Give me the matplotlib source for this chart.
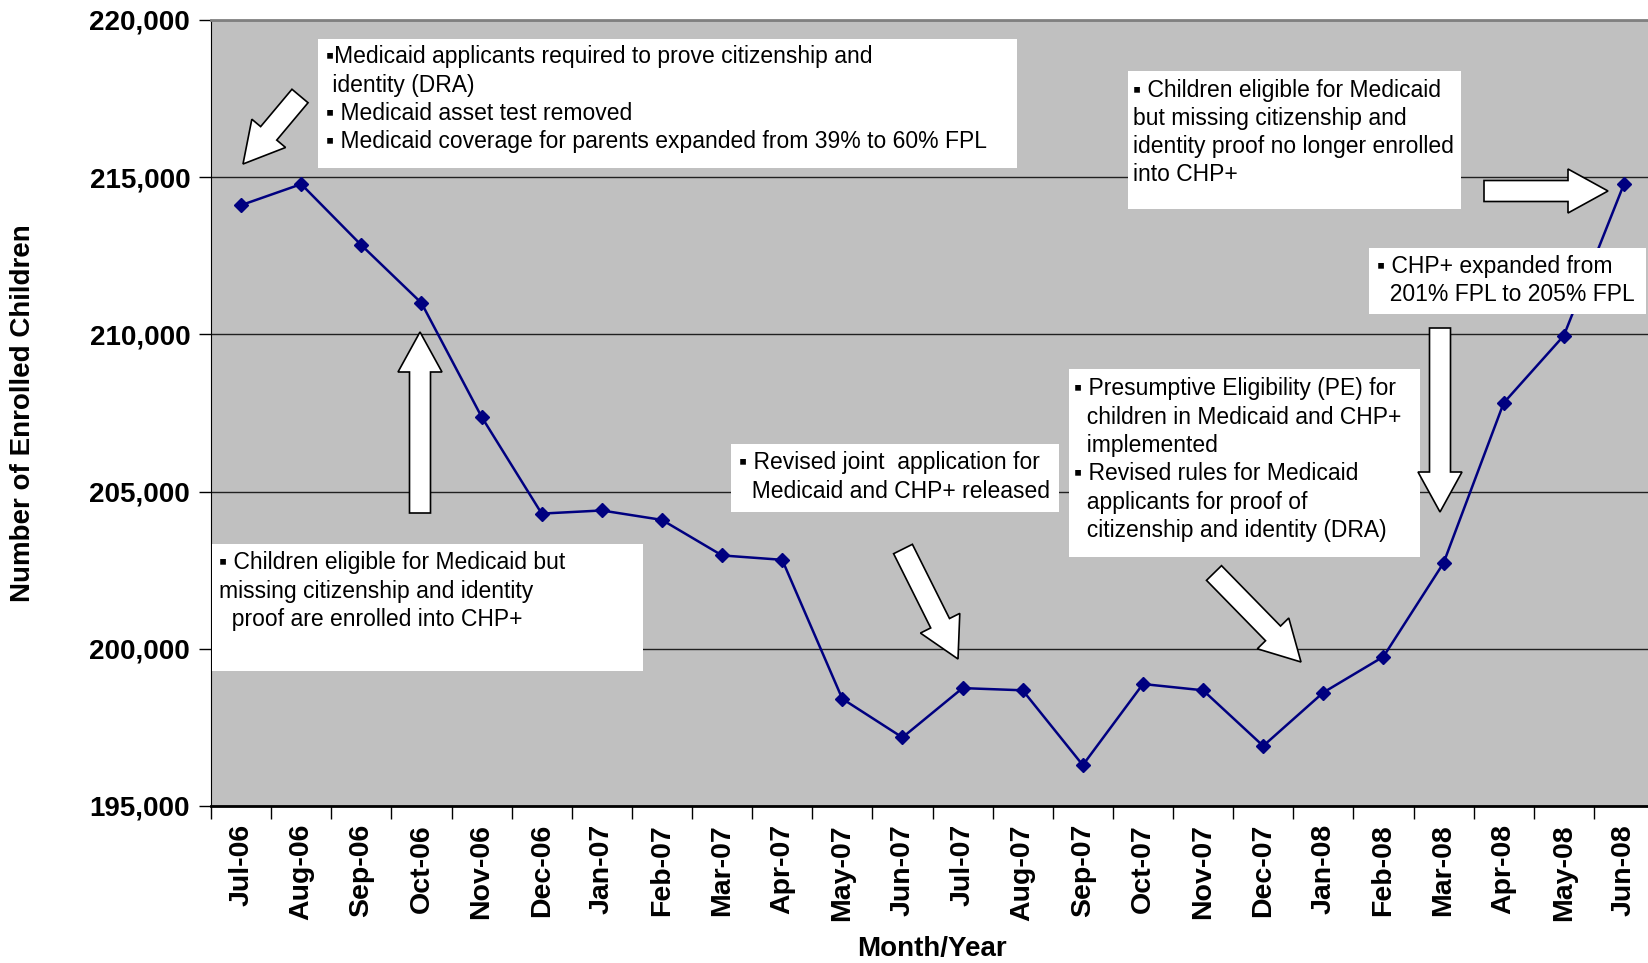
import matplotlib
matplotlib.use("Agg")
import matplotlib.pyplot as plt
from matplotlib.patches import Rectangle, FancyArrow

months = ["Jul-06", "Aug-06", "Sep-06", "Oct-06", "Nov-06", "Dec-06", "Jan-07", "Feb-07",
          "Mar-07", "Apr-07", "May-07", "Jun-07", "Jul-07", "Aug-07", "Sep-07", "Oct-07",
          "Nov-07", "Dec-07", "Jan-08", "Feb-08", "Mar-08", "Apr-08", "May-08", "Jun-08"]
enrolled = [214110, 214780, 212840, 211000, 207380, 204300, 204400, 204100,
            202970, 202830, 198410, 197180, 198750, 198680, 196300, 198880,
            198680, 196910, 198610, 199750, 202730, 207820, 209960, 214780]
yticks = [195000, 200000, 205000, 210000, 215000, 220000]

notes_top = ["\u25aaMedicaid applicants required to prove citizenship and",
             " identity (DRA)",
             "\u25aa Medicaid asset test removed",
             "\u25aa Medicaid coverage for parents expanded from 39% to 60% FPL"]
notes_topright = ["\u25aa Children eligible for Medicaid",
                  "but missing citizenship and",
                  "identity proof no longer enrolled",
                  "into CHP+"]
notes_chp = ["\u25aa CHP+ expanded from",
             "  201% FPL to 205% FPL"]
notes_pe = ["\u25aa Presumptive Eligibility (PE) for",
            "  children in Medicaid and CHP+",
            "  implemented",
            "\u25aa Revised rules for Medicaid",
            "  applicants for proof of",
            "  citizenship and identity (DRA)"]
notes_joint = ["\u25aa Revised joint  application for",
               "  Medicaid and CHP+ released"]
notes_left = ["\u25aa Children eligible for Medicaid but",
              "missing citizenship and identity",
              "  proof are enrolled into CHP+"]

FONT = ["Liberation Sans", "DejaVu Sans"]
plt.rcParams["font.family"] = FONT

W, H = 1648, 963
fig = plt.figure(figsize=(W / 100, H / 100), dpi=100)
fig.patch.set_facecolor("white")

# main axes in pixel geometry
left, right, top, bottom = 211, 1654, 20, 806
ax = fig.add_axes([left / W, (H - bottom) / H, (right - left) / W, (bottom - top) / H])
ax.set_facecolor("#C0C0C0")
x = list(range(len(months)))
ax.plot(x, enrolled, color="#000080", lw=1.8, marker="D", ms=7.5, zorder=3)
ax.set_xlim(-0.5, len(months) - 0.5)
ax.set_ylim(195000, 220000)
ax.set_yticks(yticks)
ax.set_yticklabels([f"{v:,}" for v in yticks], fontsize=20, fontweight="bold")
ax.yaxis.grid(True, color="#202020", lw=1.0)
ax.set_axisbelow(True)
ax.tick_params(axis="y", length=9, width=1, direction="out", pad=6)
ax.set_xticks(x)
ax.set_xticklabels(months, rotation=90, fontsize=20.5, fontweight="bold")
ax.tick_params(axis="x", which="major", length=0, pad=13)
ax.set_xticks([i - 0.5 for i in range(len(months) + 1)], minor=True)
ax.tick_params(axis="x", which="minor", length=9, width=1, direction="out")
ax.spines["top"].set_color("#808080")
ax.spines["top"].set_linewidth(2)
ax.spines["right"].set_color("#808080")
ax.spines["left"].set_color("black")
ax.spines["bottom"].set_color("black")
ax.spines["bottom"].set_linewidth(2)

fig.text(23 / W, 1 - 413 / H, "Number of Enrolled Children", fontsize=20, fontweight="bold",
         rotation=90, ha="center", va="center")
fig.text(932 / W, 1 - 949 / H, "Month/Year", fontsize=20, fontweight="bold",
         ha="center", va="center")

# overlay in pixel coords
ov = fig.add_axes([0, 0, 1, 1])
ov.set_xlim(0, W)
ov.set_ylim(H, 0)
ov.axis("off")
ov.patch.set_alpha(0)

boxes = [
    ((318, 39, 1017, 168), notes_top, 326, 57),
    ((1128, 71, 1461, 209), notes_topright, 1133, 90),
    ((1369, 248, 1646, 314), notes_chp, 1377, 266),
    ((1069, 369, 1420, 557), notes_pe, 1074, 389),
    ((731, 444, 1059, 512), notes_joint, 739, 463),
    ((212, 544, 643, 671), notes_left, 219, 563),
]
for (x0, y0, x1, y1), lines, tx, ty in boxes:
    ov.add_patch(Rectangle((x0, y0), x1 - x0, y1 - y0, fc="white", ec="none", zorder=2))
    for k, ln in enumerate(lines):
        ov.text(tx, ty + k * 28.3, ln, fontsize=16.5, va="center", ha="left",
                family=FONT, zorder=3)

arrows = [
    ((300, 96), (243, 164)),
    ((420, 513), (420, 332)),
    ((903, 549), (958, 659)),
    ((1214, 573), (1301, 662)),
    ((1440, 328), (1440, 512)),
    ((1484, 191), (1608, 191)),
]
for (xa, ya), (xb, yb) in arrows:
    ov.add_patch(FancyArrow(xa, ya, xb - xa, yb - ya, width=21, head_width=44,
                            head_length=40, length_includes_head=True,
                            fc="white", ec="black", lw=1.2, zorder=4))

fig.savefig("out.png", dpi=100)
